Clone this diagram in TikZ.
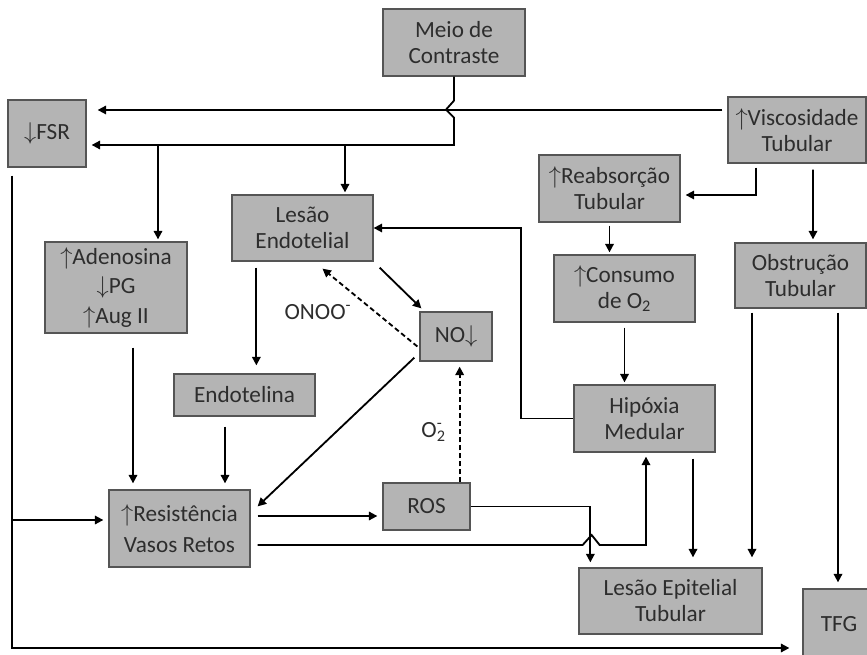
\documentclass[tikz,border=0pt]{standalone}
\usepackage{fontspec}
\setmainfont{Carlito}
\usepackage{tikz}
\usetikzlibrary{calc,arrows.meta}
\definecolor{boxgray}{RGB}{180,180,180}
\definecolor{edgegray}{RGB}{85,85,85}
\definecolor{txtgray}{RGB}{45,45,45}
\tikzset{
  box/.style={draw=edgegray, line width=0.9pt, fill=boxgray, text=txtgray, align=center,
    inner sep=0pt, font=\fontsize{16.5}{18.5}\selectfont},
  arr/.style={line width=1.3pt, -{Triangle[length=6pt,width=6pt]}},
  dsh/.style={arr, dash pattern=on 3.5pt off 2.2pt},
  lbl/.style={text=txtgray, font=\fontsize{16.5}{18.5}\selectfont}
}
\begin{document}
\begin{tikzpicture}[x=0.025cm,y=-0.025cm]
			\useasboundingbox (0,0) rectangle (867,655);
			
			% boxes
			\node[box, minimum width=3.55cm, minimum height=1.675cm] (meio) at (454,42.5) {Meio de\\Contraste};
			\node[box, minimum width=1.95cm, minimum height=1.675cm] (fsr) at (47,133.5) {$\downarrow$FSR};
			\node[box, minimum width=3.45cm, minimum height=1.65cm] (visc) at (797,130) {$\uparrow$Viscosidade\\Tubular};
			\node[box, minimum width=3.525cm, minimum height=1.675cm] (reab) at (609.5,188.5) {$\uparrow$Reabsorção\\Tubular};
			\node[box, minimum width=3.525cm, minimum height=1.65cm] (lesEnd) at (302.5,228) {Lesão\\Endotelial};
			\node[box, minimum width=3.55cm, minimum height=2.275cm] (aden) at (116,287.5) {$\uparrow$Adenosina\\[2.5pt]$\downarrow$PG\\[2.5pt]$\uparrow$Aug II};
			\node[box, minimum width=3.525cm, minimum height=1.675cm] (cons) at (624.5,288.5) {$\uparrow$Consumo\\de O\textsubscript{2}};
			\node[box, minimum width=3.275cm, minimum height=1.625cm] (obst) at (800.5,275.5) {Obstrução\\Tubular};
			\node[box, minimum width=1.8cm, minimum height=1.225cm] (no) at (456,336.5) {NO$\downarrow$};
			\node[box, minimum width=3.525cm, minimum height=1.05cm] (endo) at (244.5,395) {Endotelina};
			\node[box, minimum width=3.525cm, minimum height=1.675cm] (hipox) at (644.5,418.5) {Hipóxia\\Medular};
			\node[box, minimum width=2.175cm, minimum height=1.175cm] (ros) at (426.5,506.5) {ROS};
			\node[box, minimum width=3.525cm, minimum height=1.925cm] (resist) at (179.5,528.5) {$\uparrow$Resistência\\[4pt]Vasos Retos};
			\node[box, minimum width=4.575cm, minimum height=1.65cm] (lesEpi) at (670.5,601) {Lesão Epitelial\\Tubular};
			\node[box, minimum width=1.8cm, minimum height=1.75cm] (tfg) at (839,624) {TFG};
			
			% labels
			\node[lbl] (onoo) at (318,312) {ONOO\textsuperscript{-}};
			\node[lbl] (otwo) at (432,432) {O\rlap{\textsubscript{2}}\textsuperscript{-}};
			
			% branch points
			\coordinate (splitA) at (158,145);
			\coordinate (splitB) at (345,145);
			\coordinate (splitC) at (13,520);
			
			% top: contrast and viscosity to FSR
			\draw[arr] ($(visc.west)+(-5,-20)$) -- ($(fsr.east)+(11,-23.5)$);
			\draw[arr] (meio.south) -- ++(0,24) -- ++(-8,9) -- ++(8,8) |- ($(fsr.east)+(5,11.5)$);
			\draw[arr] (splitA) -- ($(splitA |- aden.north)+(0,-2)$);
			\draw[arr] (splitB) -- ($(splitB |- lesEnd.north)+(0,-2)$);
			
			% viscosity branch
			\draw[arr] ($(visc.south)+(-41,4)$) |- ($(reab.east)+(5,6.5)$);
			\draw[arr] ($(visc.south)+(16,6)$) -- ($(obst.north)+(12.5,-3)$);
			\draw[arr] ($(reab.south)+(0,3)$) -- ($(reab.south |- cons.north)+(0,-2)$);
			\draw[arr] ($(cons.south)+(0,5)$) -- ($(cons.south |- hipox.north)+(0,-2)$);
			\draw[arr] (hipox.west) -- ++(-52,0) |- (lesEnd.east);
			
			% endothelium loop
			\draw[arr] ($(lesEnd.south west)+(25,6)$) -- ($(lesEnd.south west |- endo.north)+(25,-8)$);
			\draw[arr] ($(lesEnd.south east)+(6,6)$) -- ($(no.north west)+(2,-3)$);
			\draw[dsh] ($(no.west)+(-2,10)$) -- ($(lesEnd.south)+(20,7)$);
			\draw[arr] ($(no.south west)+(-5,-4)$) -- ($(resist.north east)+(7,17)$);
			\draw[dsh] ($(ros.north east)+(-11,0)$) -- ($(ros.north east |- no.south)+(-11,5)$);
			
			% to resistance
			\draw[arr] ($(aden.south)+(17,14)$) -- ($(aden.south |- resist.north)+(17,-6)$);
			\draw[arr] ($(endo.south)+(-19.5,10)$) -- ($(endo.south |- resist.north)+(-19.5,-6)$);
			\draw[arr] ($(resist.east)+(7,-12.5)$) -- ($(ros.west |- resist.east)+(-5,-12.5)$);
			\draw[arr] ($(resist.east)+(7,16.5)$) -- ++(325,0) -- ++(9,-10) -- ++(8,10) -| ($(hipox.south)+(1.5,4)$);
			
			% to epithelial injury and TFG
			\draw[arr] (ros.east) -| ($(lesEpi.north west)+(12,-5)$);
			\draw[arr] ($(hipox.south)+(48.5,6)$) -- ($(hipox.south |- lesEpi.north)+(48.5,-10)$);
			\draw[arr] ($(obst.south)+(-48.5,4)$) -- ($(obst.south |- lesEpi.north)+(-48.5,-10)$);
			\draw[arr] ($(obst.south)+(37.5,4)$) -- ($(obst.south |- tfg.north)+(37.5,-6)$);
			\draw[arr] ($(fsr.south west)+(5,8)$) |- ($(tfg.west)+(-13,24)$);
			\draw[arr] (splitC) -- ($(resist.west)+(-5,-8.5)$);
			
\end{tikzpicture}
\end{document}
